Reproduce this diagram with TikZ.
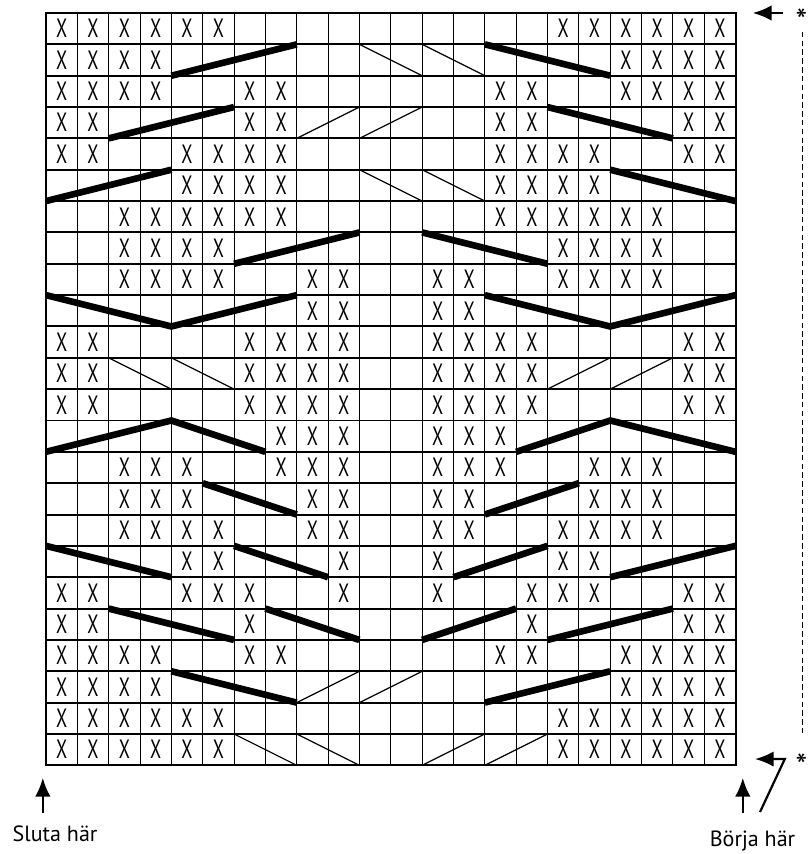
\documentclass[tikz,border=0pt]{standalone}
\usepackage{fontspec}
\setmainfont{PT Sans}
\newfontfamily\stitchfont{PT Sans}[FakeStretch=0.68]
\usetikzlibrary{arrows.meta}

\begin{document}
\begin{tikzpicture}[x=1cm,y=-1cm,
    cable/.style={line width=6pt},
    twist/.style={line width=1.1pt},
    purl/.style={font=\stitchfont\fontsize{24}{24}\selectfont, inner sep=0pt},
    notetext/.style={font=\fontsize{20}{22}\selectfont, inner sep=0pt, anchor=base},
    pointer/.style={-{Latex[length=17pt,width=14pt]}, line width=2pt}]

    \useasboundingbox (-1.467,-0.415) rectangle (24.34,26.83);

    % grid
    \foreach \c in {1,...,21}
        \draw[line width=0.9pt] (\c,0) -- (\c,24);
    \foreach \r in {1,...,23}
        \draw[line width=1.8pt] (0,\r) -- (22,\r);
    \draw[line width=1.8pt] (0,0) rectangle (22,24);

    % purl stitches, row / columns
    \foreach \r/\cs in {0/{0,1,2,3,4,5,16,17,18,19,20,21},
                        1/{0,1,2,3,18,19,20,21},
                        2/{0,1,2,3,6,7,14,15,18,19,20,21},
                        3/{0,1,6,7,14,15,20,21},
                        4/{0,1,4,5,6,7,14,15,16,17,20,21},
                        5/{4,5,6,7,14,15,16,17},
                        6/{2,3,4,5,6,7,14,15,16,17,18,19},
                        7/{2,3,4,5,16,17,18,19},
                        8/{2,3,4,5,8,9,12,13,16,17,18,19},
                        9/{8,9,12,13},
                        10/{0,1,6,7,8,9,12,13,14,15,20,21},
                        11/{0,1,6,7,8,9,12,13,14,15,20,21},
                        12/{0,1,6,7,8,9,12,13,14,15,20,21},
                        13/{7,8,9,12,13,14},
                        14/{2,3,4,7,8,9,12,13,14,17,18,19},
                        15/{2,3,4,8,9,12,13,17,18,19},
                        16/{2,3,4,5,8,9,12,13,16,17,18,19},
                        17/{4,5,9,12,16,17},
                        18/{0,1,4,5,6,9,12,15,16,17,20,21},
                        19/{0,1,6,15,20,21},
                        20/{0,1,2,3,6,7,14,15,18,19,20,21},
                        21/{0,1,2,3,18,19,20,21},
                        22/{0,1,2,3,4,5,16,17,18,19,20,21},
                        23/{0,1,2,3,4,5,16,17,18,19,20,21}}
        \foreach \c in \cs
            \node[purl] (x-\r-\c) at (\c+0.5,\r+0.5) {X};

    % cables
    \draw[cable] (4,2) -- (8,1);
    \draw[cable] (14,1) -- (18,2);
    \draw[cable] (2,4) -- (6,3);
    \draw[cable] (16,3) -- (20,4);
    \draw[cable] (0,6) -- (4,5);
    \draw[cable] (18,5) -- (22,6);
    \draw[cable] (6,8) -- (10,7);
    \draw[cable] (12,7) -- (16,8);
    \draw[cable] (0,9) -- (4,10) -- (8,9);
    \draw[cable] (14,9) -- (18,10) -- (22,9);
    \draw[cable] (0,14) -- (4,13) -- (7,14);
    \draw[cable] (15,14) -- (18,13) -- (22,14);
    \draw[cable] (5,15) -- (8,16);
    \draw[cable] (14,16) -- (17,15);
    \draw[cable] (0,17) -- (4,18);
    \draw[cable] (6,17) -- (9,18);
    \draw[cable] (13,18) -- (16,17);
    \draw[cable] (18,18) -- (22,17);
    \draw[cable] (2,19) -- (6,20);
    \draw[cable] (7,19) -- (10,20);
    \draw[cable] (12,20) -- (15,19);
    \draw[cable] (16,20) -- (20,19);
    \draw[cable] (4,21) -- (8,22);
    \draw[cable] (14,22) -- (18,21);

    % small crossings
    \foreach \a/\b/\c/\d in {10/1/12/2, 12/1/14/2,
                             8/4/10/3, 10/4/12/3,
                             10/5/12/6, 12/5/14/6,
                             2/11/4/12, 4/11/6/12, 16/12/18/11, 18/12/20/11,
                             8/22/10/21, 10/22/12/21,
                             6/23/8/24, 8/23/10/24, 12/24/14/23, 14/24/16/23}
        \draw[twist] (\a,\b) -- (\c,\d);

    % start and end
    \coordinate (end-tail) at (-0.1,25.52);
    \coordinate (end-tip) at (-0.1,24.40);
    \draw[pointer] (end-tail) -- (end-tip);
    \node[notetext] (end) at (0.29,26.44) {Sluta här};

    \coordinate (start-tail) at (22.23,25.52);
    \coordinate (start-tip) at (22.23,24.40);
    \draw[pointer] (start-tail) -- (start-tip);
    \node[notetext] (start) at (22.54,26.6) {Börja här};

    \coordinate (turn-foot) at (22.78,25.49);
    \coordinate (turn-bend) at (23.57,23.80);
    \coordinate (turn-tip) at (22.62,23.80);
    \draw[pointer, line join=miter] (turn-foot) -- (turn-bend) -- (turn-tip);

    % repeat
    \coordinate (row-tail) at (23.51,0);
    \coordinate (row-tip) at (22.55,0);
    \draw[pointer] (row-tail) -- (row-tip);
    \node[font=\fontsize{30}{32}\selectfont, inner sep=0pt] (rep-top) at (24.1,0.25) {*};
    \node[font=\fontsize{30}{32}\selectfont, inner sep=0pt] (rep-bottom) at (24.1,24.0) {*};
    \coordinate (dash-top) at (24.14,0.6);
    \coordinate (dash-bottom) at (24.14,22.97);
    \draw[line width=1.5pt, dash pattern=on 5pt off 3pt] (dash-top) -- (dash-bottom);
\end{tikzpicture}
\end{document}
